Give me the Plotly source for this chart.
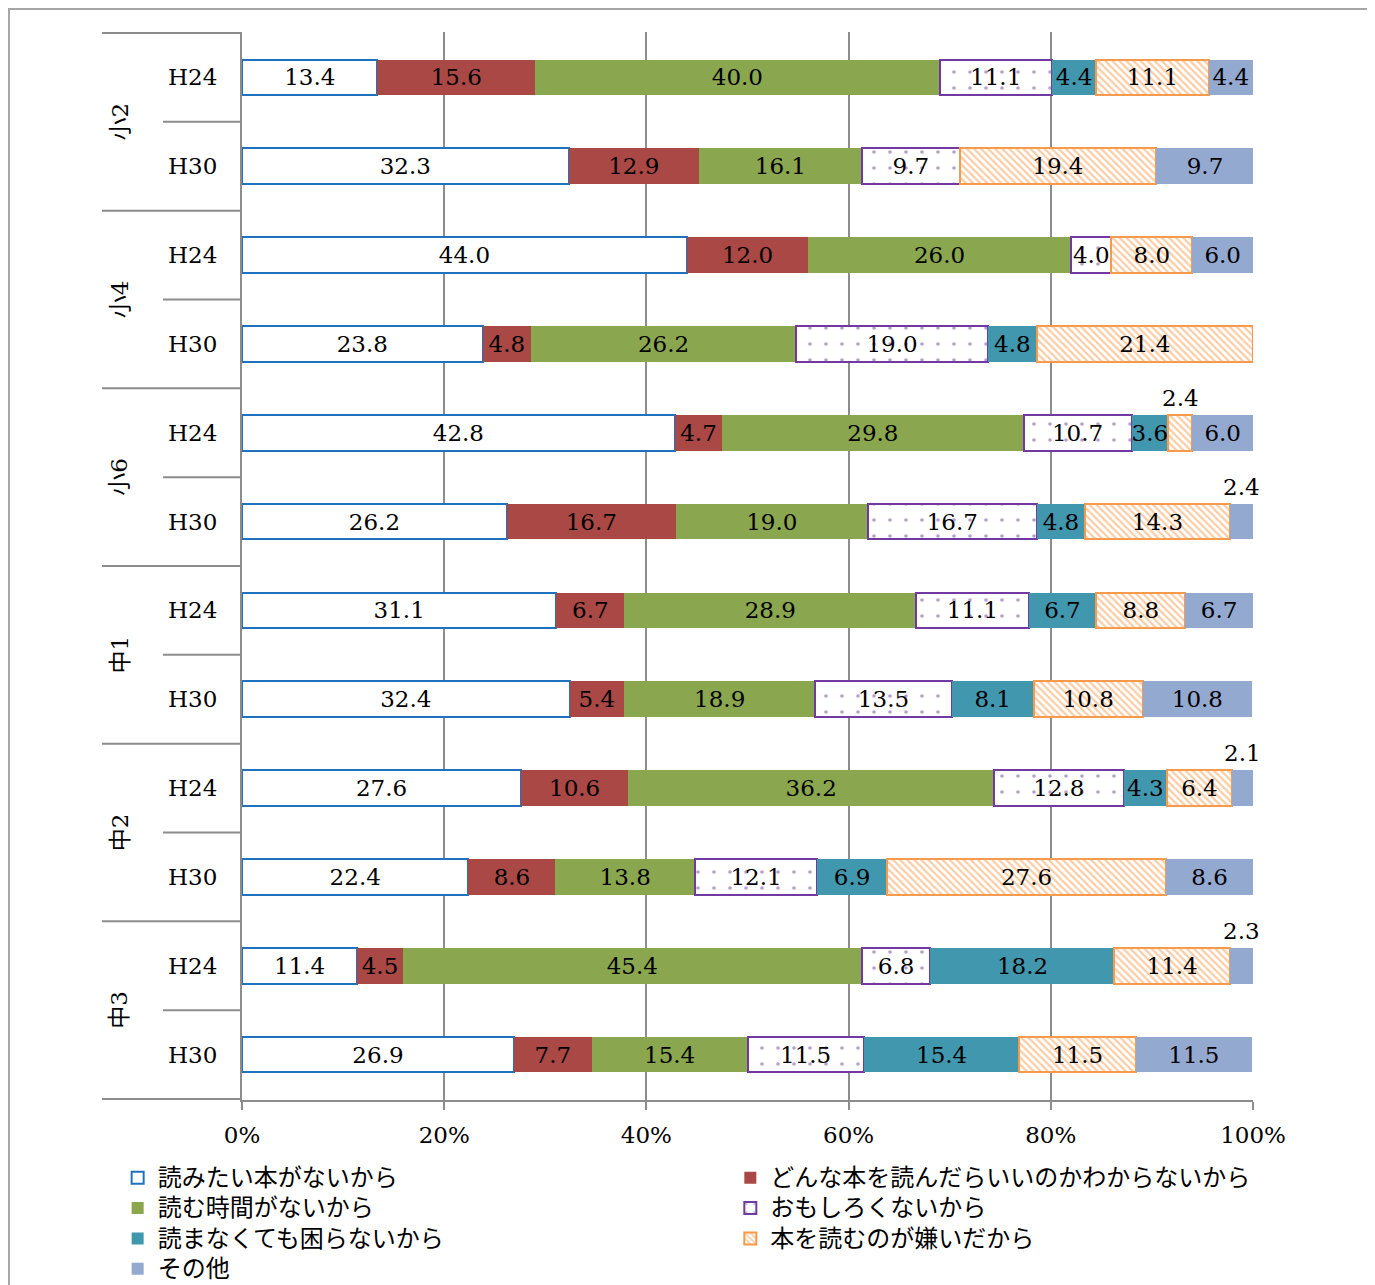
import plotly.graph_objects as go

grades = ["小2", "小4", "小6", "中1", "中2", "中3"]
years = ["H24", "H30"]

reasons = [
    "読みたい本がないから",
    "どんな本を読んだらいいのかわからないから",
    "読む時間がないから",
    "おもしろくないから",
    "読まなくても困らないから",
    "本を読むのが嫌いだから",
    "その他",
]

# one list per reason, rows in order 小2 H24, 小2 H30, 小4 H24, ... 中3 H30
no_book = [13.4, 32.3, 44.0, 23.8, 42.8, 26.2, 31.1, 32.4, 27.6, 22.4, 11.4, 26.9]
dont_know = [15.6, 12.9, 12.0, 4.8, 4.7, 16.7, 6.7, 5.4, 10.6, 8.6, 4.5, 7.7]
no_time = [40.0, 16.1, 26.0, 26.2, 29.8, 19.0, 28.9, 18.9, 36.2, 13.8, 45.4, 15.4]
not_fun = [11.1, 9.7, 4.0, 19.0, 10.7, 16.7, 11.1, 13.5, 12.8, 12.1, 6.8, 11.5]
no_need = [4.4, None, None, 4.8, 3.6, 4.8, 6.7, 8.1, 4.3, 6.9, 18.2, 15.4]
dislike = [11.1, 19.4, 8.0, 21.4, 2.4, 14.3, 8.8, 10.8, 6.4, 27.6, 11.4, 11.5]
other = [4.4, 9.7, 6.0, None, 6.0, 2.4, 6.7, 10.8, 2.1, 8.6, 2.3, 11.5]

series = [no_book, dont_know, no_time, not_fun, no_need, dislike, other]

x_ticks = [0, 20, 40, 60, 80, 100]
x_ticktext = ["0%", "20%", "40%", "60%", "80%", "100%"]

# segments whose label sits above the bar: (row, series index)
labels_above = [(4, 5), (5, 6), (8, 6), (10, 6)]

styles = [
    dict(color="white", line=dict(color="#1f72c0", width=2)),
    dict(color="#a94845", line=dict(width=0)),
    dict(color="#8aa64e", line=dict(width=0)),
    dict(color="white", line=dict(color="#7339a3", width=2),
         pattern=dict(shape=".", fgcolor="#7339a3", bgcolor="white", size=16, solidity=0.04)),
    dict(color="#4197ae", line=dict(width=0)),
    dict(color="white", line=dict(color="#f79a4b", width=2),
         pattern=dict(shape="\\", fgcolor="#f79a4b", bgcolor="white", size=5, solidity=0.45)),
    dict(color="#94a9d0", line=dict(width=0)),
]

FONT = "DejaVu Serif, Noto Sans CJK JP"
row_ids = [f"{g} {y}" for g in grades for y in years]
row_years = [y for g in grades for y in years]

fig = go.Figure()
for k, (name, vals) in enumerate(zip(reasons, series)):
    texts = []
    for r, v in enumerate(vals):
        if v is None or (r, k) in labels_above:
            texts.append("")
        else:
            texts.append(f"{v:.1f}")
    fig.add_trace(go.Bar(
        y=row_ids, x=vals, name=f"<span style='font-size:24px'>{name}</span>",
        orientation="h",
        marker=styles[k], text=texts, textposition="inside",
        insidetextanchor="middle", textangle=0,
        textfont=dict(color="black", size=23, family=FONT),
        legend="legend" if k % 2 == 0 else "legend2",
        hovertemplate=name + ": %{x}<extra></extra>",
    ))

# labels placed above small segments
for r, k in labels_above:
    start = sum(series[j][r] or 0 for j in range(k))
    v = series[k][r]
    fig.add_annotation(x=start + v / 2, y=r, xref="x", yref="y", text=f"{v:.1f}",
                       showarrow=False, yshift=35, font=dict(size=23, family=FONT, color="black"))

# grade labels (rotated) and divider lines left of the plot
line_col = "#8c8c8c"
for i, g in enumerate(grades):
    fig.add_annotation(x=-0.121, y=2 * i + 0.5, xref="paper", yref="y", text=g,
                       showarrow=False, textangle=-90, xanchor="center", yanchor="middle",
                       font=dict(size=23, family=FONT, color="black"))
    fig.add_shape(type="line", xref="paper", yref="y", x0=-0.0781, x1=0,
                  y0=2 * i + 0.5, y1=2 * i + 0.5, line=dict(color=line_col, width=2))
for b in range(len(grades) + 1):
    fig.add_shape(type="line", xref="paper", yref="y", x0=-0.1385, x1=0,
                  y0=2 * b - 0.5, y1=2 * b - 0.5, line=dict(color=line_col, width=2))

# outer frame
fig.add_shape(type="rect", xref="paper", yref="paper", x0=-0.2305, x1=1.1138,
              y0=-0.2, y1=1.0215, line=dict(color="#a6a6a6", width=2))

legend_style = dict(yanchor="top", xanchor="left", y=-0.054, traceorder="normal",
                    font=dict(size=21, family="Noto Sans CJK JP, " + FONT),
                    tracegroupgap=0, itemwidth=30, bgcolor="rgba(0,0,0,0)")

fig.update_layout(
    width=1375, height=1285,
    margin=dict(l=234, r=130, t=24, b=193, autoexpand=False),
    barmode="stack", bargap=0.6,
    plot_bgcolor="white", paper_bgcolor="white",
    font=dict(family=FONT, size=23, color="black"),
    uniformtext=dict(minsize=23, mode="show"),
    showlegend=True,
    legend=dict(x=-0.123, **legend_style),
    legend2=dict(x=0.483, **legend_style),
    xaxis=dict(range=[0, 100], tickvals=x_ticks, ticktext=x_ticktext,
               showgrid=True, gridcolor=line_col, gridwidth=1.5,
               showline=True, linecolor=line_col, linewidth=2,
               ticks="outside", ticklen=8, tickcolor=line_col, tickwidth=1.5,
               ticklabelstandoff=5,
               zeroline=False, tickfont=dict(size=23)),
    yaxis=dict(type="category", categoryorder="array", categoryarray=row_ids,
               autorange="reversed", tickvals=row_ids, ticktext=row_years,
               showline=True, linecolor=line_col, linewidth=2,
               showgrid=False, ticks="", ticklabelstandoff=18,
               tickfont=dict(size=23)),
)

fig.write_html("out.html")
